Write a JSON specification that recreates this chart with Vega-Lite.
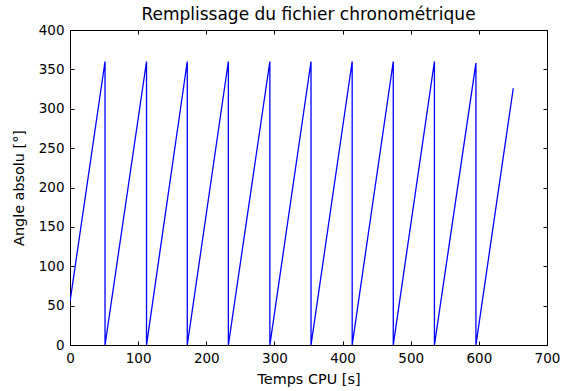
{
  "$schema": "https://vega.github.io/schema/vega-lite/v6.json",
  "width": 477,
  "height": 315,
  "autosize": {"type": "none"},
  "padding": {"left": 70, "top": 30, "right": 17, "bottom": 46},
  "background": "white",
  "title": {"text": "Remplissage du fichier chronométrique", "font": "DejaVu Sans", "fontSize": 17, "fontWeight": "normal", "color": "#000000", "offset": -1},
  "config": {
    "view": {"stroke": "#000000", "strokeWidth": 1},
    "axis": {"labelFont": "DejaVu Sans", "titleFont": "DejaVu Sans", "labelFontSize": 13.5, "titleFontSize": 14.4, "titleFontWeight": "normal", "labelColor": "#000000", "titleColor": "#000000", "grid": false, "domain": false, "tickColor": "#000000", "tickSize": -4, "labelPadding": 10, "labelFlush": false, "labelOverlap": false}
  },
  "data": {"values": [
    {"i": 0, "t": 0, "a": 55},
    {"i": 1, "t": 51.4, "a": 360},
    {"i": 2, "t": 51.4, "a": 0},
    {"i": 3, "t": 112.3, "a": 360},
    {"i": 4, "t": 112.3, "a": 0},
    {"i": 5, "t": 172.1, "a": 360},
    {"i": 6, "t": 172.1, "a": 0},
    {"i": 7, "t": 232.4, "a": 360},
    {"i": 8, "t": 232.4, "a": 0},
    {"i": 9, "t": 293.3, "a": 360},
    {"i": 10, "t": 293.3, "a": 0},
    {"i": 11, "t": 353.7, "a": 360},
    {"i": 12, "t": 353.7, "a": 0},
    {"i": 13, "t": 414.1, "a": 360},
    {"i": 14, "t": 414.1, "a": 0},
    {"i": 15, "t": 474.4, "a": 360},
    {"i": 16, "t": 474.4, "a": 0},
    {"i": 17, "t": 534.8, "a": 360},
    {"i": 18, "t": 534.8, "a": 0},
    {"i": 19, "t": 595.7, "a": 358},
    {"i": 20, "t": 595.7, "a": 0},
    {"i": 21, "t": 650.5, "a": 326}
  ]},
  "layer": [
    {
      "mark": {"type": "line", "color": "#0000ff", "strokeWidth": 1.3, "clip": true},
      "encoding": {
        "x": {"field": "t", "type": "quantitative", "scale": {"domain": [0, 700], "nice": false, "zero": false}, "axis": {"title": "Temps CPU [s]", "values": [0,100,200,300,400,500,600,700], "titlePadding": 8}},
        "y": {"field": "a", "type": "quantitative", "scale": {"domain": [0, 400], "nice": false, "zero": false}, "axis": {"title": "Angle absolu [°]", "values": [0,50,100,150,200,250,300,350,400], "titlePadding": 12}},
        "order": {"field": "i", "type": "quantitative"}
      }
    },
    {
      "mark": {"type": "point", "opacity": 0},
      "encoding": {
        "x": {"field": "t", "type": "quantitative", "axis": {"orient": "top", "labels": false, "title": null, "values": [0,100,200,300,400,500,600,700]}},
        "y": {"field": "a", "type": "quantitative", "axis": {"orient": "right", "labels": false, "title": null, "values": [0,50,100,150,200,250,300,350,400]}}
      }
    }
  ],
  "resolve": {"axis": {"x": "independent", "y": "independent"}}
}
